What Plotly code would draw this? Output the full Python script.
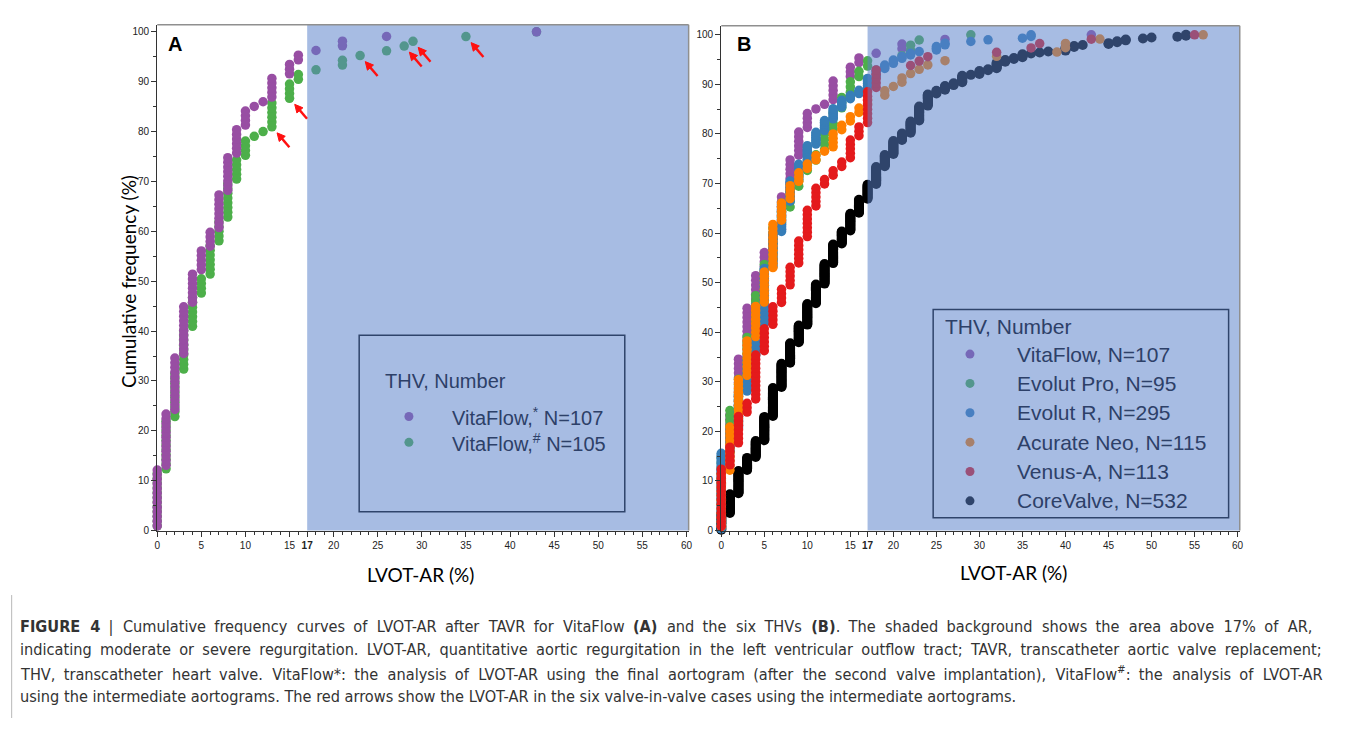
import numpy as np
import plotly.graph_objects as go

# page body has an 8px margin: the figure is placed at (8, 8) in the window
OFF = 8
W, H = 1357 - 2 * OFF, 732 - 2 * OFF

# ---------------- data: LVOT-AR value (%) and number of patients at that value ----------------
# Panel A
vitaflow_final_ar = [0, 1, 2, 3, 4, 5, 6, 7, 8, 9, 10, 11, 12, 13, 15, 16, 18, 21, 26, 43]
vitaflow_final_n = [13, 12, 12, 11, 7, 5, 4, 8, 8, 6, 4, 1, 1, 5, 3, 2, 1, 2, 1, 1]          # N=107
vitaflow_interm_ar = [0, 1, 2, 3, 4, 5, 6, 7, 8, 9, 10, 11, 12, 13, 15, 16, 18, 21, 23, 26, 28, 29, 35, 43]
vitaflow_interm_n = [12, 11, 10, 9, 7, 4, 7, 5, 8, 5, 4, 1, 1, 6, 4, 2, 1, 2, 1, 1, 1, 1, 1, 1]  # N=105
viv_cases_ar = [13, 15, 23, 28, 29, 35]   # valve-in-valve cases (red arrows)

# Panel B
evolut_pro_ar = [0, 1, 2, 3, 4, 5, 6, 7, 8, 9, 10, 11, 12, 13, 14, 15, 16, 17, 21, 22, 23, 29]
evolut_pro_n = [14, 9, 6, 8, 8, 6, 7, 3, 4, 3, 2, 2, 4, 4, 3, 3, 2, 2, 1, 2, 1, 1]            # N=95
evolut_r_ar = [0, 1, 2, 3, 4, 5, 6, 7, 8, 9, 10, 11, 12, 13, 14, 15, 16, 17, 18, 19, 20, 21, 22, 23,
               25, 26, 29, 31, 35, 36]
evolut_r_n = [46, 14, 22, 21, 19, 34, 21, 18, 13, 10, 11, 8, 7, 7, 5, 3, 3, 7, 5, 3, 3, 2, 2, 1,
              3, 2, 1, 1, 1, 2]                                                           # N=295
acurate_ar = [0, 1, 2, 3, 4, 5, 6, 7, 8, 9, 10, 11, 12, 13, 14, 15, 16, 17, 19, 20, 21, 22, 23, 24,
              26, 32, 39, 40, 44, 56]
acurate_n = [13, 11, 11, 9, 8, 8, 11, 5, 4, 3, 2, 2, 1, 4, 2, 2, 2, 2, 2, 1, 2, 1, 1, 1,
             1, 1, 1, 2, 1, 1]                                                            # N=115
venus_ar = [0, 1, 2, 3, 4, 5, 6, 7, 8, 9, 10, 11, 12, 13, 14, 15, 16, 17, 18, 22, 23, 24, 32, 36, 37, 43, 55]
venus_n = [14, 5, 7, 3, 11, 6, 5, 4, 5, 6, 7, 5, 2, 2, 2, 5, 3, 8, 5, 1, 1, 1, 1, 1, 1, 1, 1]  # N=113
corevalve_ar = list(range(0, 39)) + [40, 41, 42, 45, 46, 47, 49, 50, 53, 54]
corevalve_n = [18, 21, 25, 14, 18, 26, 31, 26, 22, 19, 23, 21, 22, 21, 14, 19, 15, 16, 19, 13,
               15, 8, 13, 16, 13, 4, 5, 3, 8, 1, 4, 2, 7, 3, 2, 4, 1, 1, 1,
               4, 2, 1, 2, 2, 2, 1, 1, 1, 2]                                              # N=532

legend_a = ["VitaFlow,<sup>*</sup> N=107", "VitaFlow,<sup>#</sup> N=105"]
legend_b = ["VitaFlow, N=107", "Evolut Pro, N=95", "Evolut R, N=295",
            "Acurate Neo, N=115", "Venus-A, N=113", "CoreValve, N=532"]
x_tick_vals = [0, 5, 10, 15, 17, 20, 25, 30, 35, 40, 45, 50, 55, 60]
y_tick_vals = list(range(0, 101, 10))

# ---------------- styles ----------------
PURPLE, GREEN, BLUE, ORANGE, RED, BLACK = "#984EA3", "#4DAF4A", "#377EB8", "#FF7F00", "#E41A1C", "#000000"
SHADE = "rgb(89,128,202)"
SHADE_OPACITY = 0.53
UNDER_SHADE_TEXT = "rgb(45,64,104)"
FONT = "Liberation Sans, Arial, sans-serif"
X_RANGE = [0, 60.25]
YA_TOP, YB_TOP = 101.4, 101.8


def cumulative(ar, n):
    x = np.repeat(np.array(ar, dtype=float), n)
    total = int(np.sum(n))
    y = 100.0 * np.arange(1, total + 1) / total
    return x, y


def px_x(p):
    return (p - OFF) / W


def px_y(p):
    return 1 - (p - OFF) / H


XA_DOM = [px_x(155), px_x(689.2)]
YA_DOM = [px_y(535), px_y(25)]
XB_DOM = [px_x(722), px_x(1243.2)]
YB_DOM = [px_y(535), px_y(26)]

fig = go.Figure()
MS = 9.5


def add_series(ar, n, color, xa, ya, size=MS):
    x, y = cumulative(ar, n)
    fig.add_trace(go.Scatter(x=x, y=y, mode="markers", xaxis=xa, yaxis=ya,
                             marker=dict(color=color, size=size, line=dict(width=0)),
                             cliponaxis=False, showlegend=False, hoverinfo="skip"))
    return x, y


# Panel A
gx, gy = add_series(vitaflow_interm_ar, vitaflow_interm_n, GREEN, "x", "y")
add_series(vitaflow_final_ar, vitaflow_final_n, PURPLE, "x", "y")

# Panel B (bottom to top)
add_series(corevalve_ar, corevalve_n, BLACK, "x2", "y2", size=10)
add_series(vitaflow_final_ar, vitaflow_final_n, PURPLE, "x2", "y2")
add_series(evolut_pro_ar, evolut_pro_n, GREEN, "x2", "y2")
add_series(evolut_r_ar, evolut_r_n, BLUE, "x2", "y2")
add_series(acurate_ar, acurate_n, ORANGE, "x2", "y2")
add_series(venus_ar, venus_n, RED, "x2", "y2")

shapes = []
annotations = []

# ---- legend A (drawn under the translucent shade) ----
shapes.append(dict(type="rect", xref="paper", yref="paper", layer="above",
                   x0=px_x(358), x1=px_x(625), y0=px_y(516), y1=px_y(338),
                   line=dict(color="black", width=1.5), fillcolor="rgba(0,0,0,0)"))
for i, (lbl, col) in enumerate(zip(legend_a, [PURPLE, GREEN])):
    yy = 420 + 26 * i
    shapes.append(dict(type="circle", xref="paper", yref="paper", layer="above",
                       xsizemode="pixel", ysizemode="pixel",
                       xanchor=px_x(408), yanchor=px_y(yy), x0=-4.5, x1=4.5, y0=-4.5, y1=4.5,
                       fillcolor=col, line=dict(width=0)))
    annotations.append(dict(xref="paper", yref="paper", x=px_x(449), y=px_y(yy),
                            xanchor="left", yanchor="middle", showarrow=False, text=lbl,
                            font=dict(family=FONT, size=20, color=UNDER_SHADE_TEXT)))
annotations.append(dict(xref="paper", yref="paper", x=px_x(382), y=px_y(384),
                        xanchor="left", yanchor="middle", showarrow=False, text="THV, Number",
                        font=dict(family=FONT, size=20, color=UNDER_SHADE_TEXT)))

# ---- legend B ----
shapes.append(dict(type="rect", xref="paper", yref="paper", layer="above",
                   x0=px_x(935), x1=px_x(1232), y0=px_y(522), y1=px_y(312),
                   line=dict(color="black", width=1.5), fillcolor="rgba(0,0,0,0)"))
for i, (lbl, col) in enumerate(zip(legend_b, [PURPLE, GREEN, BLUE, ORANGE, RED, BLACK])):
    yy = 357 + 29.6 * i
    shapes.append(dict(type="circle", xref="paper", yref="paper", layer="above",
                       xsizemode="pixel", ysizemode="pixel",
                       xanchor=px_x(972), yanchor=px_y(yy), x0=-4.5, x1=4.5, y0=-4.5, y1=4.5,
                       fillcolor=col, line=dict(width=0)))
    annotations.append(dict(xref="paper", yref="paper", x=px_x(1017), y=px_y(yy),
                            xanchor="left", yanchor="middle", showarrow=False, text=lbl,
                            font=dict(family=FONT, size=21, color=UNDER_SHADE_TEXT)))
annotations.append(dict(xref="paper", yref="paper", x=px_x(945), y=px_y(329),
                        xanchor="left", yanchor="middle", showarrow=False, text="THV, Number",
                        font=dict(family=FONT, size=21, color=UNDER_SHADE_TEXT)))

# ---- translucent shade above 17% AR ----
for xr, yr in (("x", "y"), ("x2", "y2")):
    shapes.append(dict(type="rect", xref=xr, yref=yr + " domain", layer="above",
                       x0=17, x1=X_RANGE[1], y0=0, y1=1,
                       fillcolor=SHADE, opacity=SHADE_OPACITY, line=dict(width=0)))

# ---- gray frame (top and right) ----
for xr, yr in (("x", "y"), ("x2", "y2")):
    shapes.append(dict(type="line", xref=xr + " domain", yref=yr + " domain", layer="above",
                       x0=0, x1=1, y0=1, y1=1, line=dict(color="#8f8f8f", width=1.5)))
    shapes.append(dict(type="line", xref=xr + " domain", yref=yr + " domain", layer="above",
                       x0=1, x1=1, y0=0, y1=1, line=dict(color="#8f8f8f", width=1.5)))

# ---- red arrows (valve-in-valve cases), pointing at the first intermediate-aortogram dot ----
sx = (XA_DOM[1] - XA_DOM[0]) * W / (X_RANGE[1] - X_RANGE[0])   # px per AR unit
sy = (YA_DOM[1] - YA_DOM[0]) * H / YA_TOP                      # px per % unit
ux, uy = 18.0, 21.0
ul = (ux ** 2 + uy ** 2) ** 0.5
ux, uy = ux / ul, uy / ul            # screen direction from the dot towards the arrow tail
px_dx, px_dy = -uy, ux               # perpendicular


def to_data(x0, y0, dpx, dpy):
    return x0 + dpx / sx, y0 - dpy / sy


for v in viv_cases_ar:
    idx = int(np.argmax(gx == v))
    dx0, dy0 = v, float(gy[idx])
    tip = to_data(dx0, dy0, 8 * ux, 8 * uy)
    base = to_data(dx0, dy0, 15 * ux, 15 * uy)
    tail = to_data(dx0, dy0, 27 * ux, 27 * uy)
    b1 = to_data(dx0, dy0, 16 * ux + 4 * px_dx, 16 * uy + 4 * px_dy)
    b2 = to_data(dx0, dy0, 16 * ux - 4 * px_dx, 16 * uy - 4 * px_dy)
    shapes.append(dict(type="line", xref="x", yref="y", layer="above",
                       x0=tail[0], y0=tail[1], x1=base[0], y1=base[1],
                       line=dict(color="#FF1010", width=2.4)))
    shapes.append(dict(type="path", xref="x", yref="y", layer="above",
                       path=f"M {tip[0]},{tip[1]} L {b1[0]},{b1[1]} L {b2[0]},{b2[1]} Z",
                       fillcolor="#FF1010", line=dict(color="#FF1010", width=1)))

# ---- panel letters / axis titles ----
annotations += [
    dict(xref="paper", yref="paper", x=px_x(164), y=px_y(44), xanchor="left", yanchor="middle",
         showarrow=False, text="<b>A</b>", font=dict(family=FONT, size=20, color="black")),
    dict(xref="paper", yref="paper", x=px_x(736), y=px_y(44), xanchor="left", yanchor="middle",
         showarrow=False, text="<b>B</b>", font=dict(family=FONT, size=20, color="black")),
    dict(xref="paper", yref="paper", x=px_x(126), y=px_y(284), xanchor="center", yanchor="middle",
         showarrow=False, text="Cumulative frequency (%)", textangle=-90,
         font=dict(family="Lato, Open Sans, sans-serif", size=19, color="black")),
    dict(xref="paper", yref="paper", x=px_x(420), y=px_y(579), xanchor="center", yanchor="middle",
         showarrow=False, text="LVOT-AR (%)",
         font=dict(family="Lato, Open Sans, sans-serif", size=19, color="black")),
    dict(xref="paper", yref="paper", x=px_x(1016), y=px_y(577), xanchor="center", yanchor="middle",
         showarrow=False, text="LVOT-AR (%)",
         font=dict(family="Lato, Open Sans, sans-serif", size=19, color="black")),
]

# ---- caption (the original is justified: widen the word gaps of the first three lines) ----
caption_lines = [
    "<b>FIGURE 4</b> | Cumulative frequency curves of LVOT-AR after TAVR for VitaFlow <b>(A)</b> and the six THVs <b>(B)</b>. The shaded background shows the area above 17% of AR,",
    "indicating moderate or severe regurgitation. LVOT-AR, quantitative aortic regurgitation in the left ventricular outflow tract; TAVR, transcatheter aortic valve replacement;",
    "THV, transcatheter heart valve. VitaFlow*: the analysis of LVOT-AR using the final aortogram (after the second valve implantation), VitaFlow<sup>#</sup>: the analysis of LVOT-AR",
    "using the intermediate aortograms. The red arrows show the LVOT-AR in the six valve-in-valve cases using the intermediate aortograms.",
]
caption_gap_extra = [["\u2004", "\u2005"], ["\u2005"], ["\u2005", "\u2004"], [""]]


def justify(line, extras):
    parts = line.split(" ")
    out = parts[0]
    for k, p in enumerate(parts[1:]):
        out += " " + extras[k % len(extras)] + p
    return out


for i, (line, ex) in enumerate(zip(caption_lines, caption_gap_extra)):
    annotations.append(dict(xref="paper", yref="paper", x=px_x(15), y=px_y(632 + 23.4 * i),
                            xanchor="left", yanchor="middle", showarrow=False, text=justify(line, ex),
                            font=dict(family="DejaVu Sans Condensed, Liberation Sans Narrow, Liberation Sans, sans-serif",
                                      size=16.2, color="#333333")))

# left border of the caption box
shapes.append(dict(type="line", xref="paper", yref="paper", layer="above",
                   x0=0.0005, x1=0.0005, y0=0, y1=px_y(600), line=dict(color="#b8b8b8", width=1)))


def x_axis(domain, anchor):
    return dict(domain=domain, range=X_RANGE, tickmode="array", tickvals=x_tick_vals,
                ticktext=[("<b>17</b>" if v == 17 else str(v)) for v in x_tick_vals],
                ticks="outside", ticklen=5, tickwidth=1, tickcolor="#333",
                minor=dict(tickmode="linear", tick0=0, dtick=1, ticks="outside", ticklen=3,
                           tickcolor="#333", showgrid=False),
                showline=True, linecolor="#333", linewidth=1.2, showgrid=False, zeroline=False,
                tickfont=dict(family=FONT, size=10, color="#222"), anchor=anchor, fixedrange=True)


def y_axis(domain, top, anchor):
    return dict(domain=domain, range=[0, top], tickmode="array", tickvals=y_tick_vals,
                ticks="outside", ticklen=5, tickwidth=1, tickcolor="#333",
                minor=dict(tickmode="linear", tick0=0, dtick=5, ticks="outside", ticklen=3,
                           tickcolor="#333", showgrid=False),
                showline=True, linecolor="#333", linewidth=1.2, showgrid=False, zeroline=False,
                tickfont=dict(family=FONT, size=10, color="#222"), anchor=anchor, fixedrange=True)


fig.update_layout(
    width=W, height=H, margin=dict(l=0, r=0, t=0, b=0, pad=0),
    paper_bgcolor="white", plot_bgcolor="rgba(0,0,0,0)",
    xaxis=x_axis(XA_DOM, "y"),
    yaxis=y_axis(YA_DOM, YA_TOP, "x"),
    xaxis2=x_axis(XB_DOM, "y2"),
    yaxis2=y_axis(YB_DOM, YB_TOP, "x2"),
    shapes=shapes, annotations=annotations, showlegend=False,
)

fig.write_html("out.html")
